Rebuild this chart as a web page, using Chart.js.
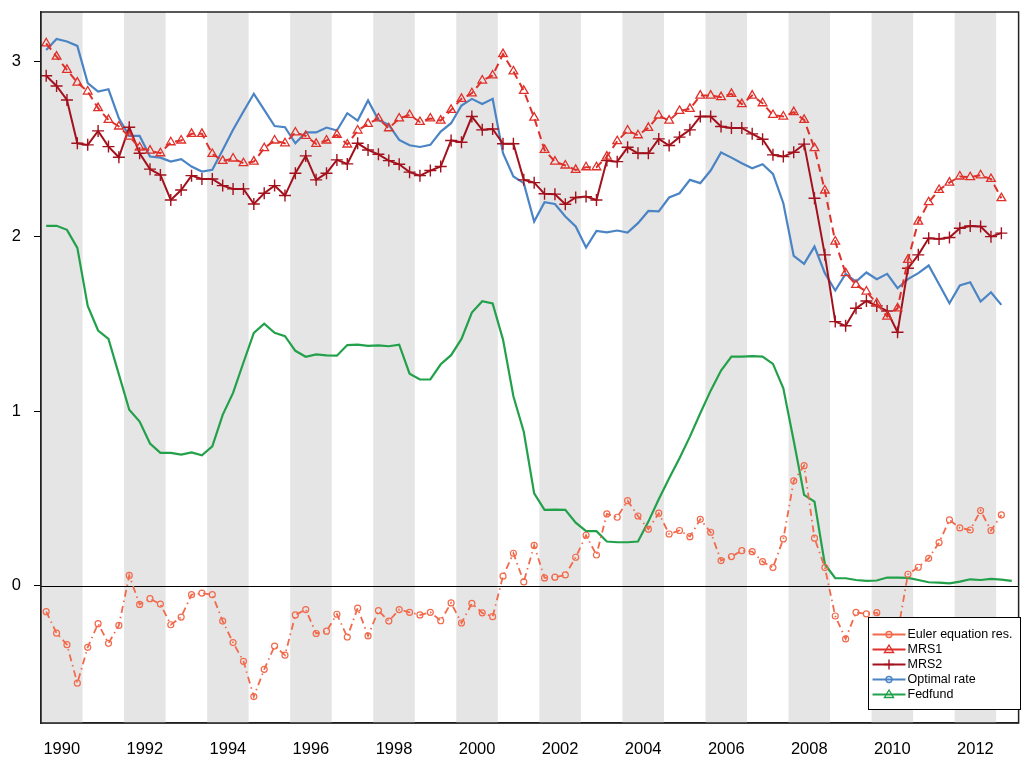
<!DOCTYPE html>
<html>
<head>
<meta charset="utf-8">
<script src="https://cdn.jsdelivr.net/npm/chart.js@4.4.0/dist/chart.umd.min.js"></script>
<style>
  html, body { margin: 0; padding: 0; background: #fff; }
  #wrap { width: 1026px; height: 763px; position: relative; }
</style>
</head>
<body>
<div id="wrap"><canvas id="rateChart"></canvas></div>
<script>
// quarterly observations starting 1989Q3
const firstYear = 1989, firstQuarter = 3;

const euler = [-0.147, -0.270, -0.336, -0.556, -0.351, -0.216, -0.328, -0.226, 0.060, -0.106, -0.073, -0.104,
  -0.222, -0.178, -0.050, -0.041, -0.050, -0.201, -0.324, -0.431, -0.633, -0.477, -0.344, -0.396,
  -0.166, -0.135, -0.272, -0.259, -0.162, -0.292, -0.127, -0.286, -0.141, -0.201, -0.135, -0.151,
  -0.166, -0.151, -0.199, -0.097, -0.212, -0.100, -0.154, -0.176, 0.056, 0.187, 0.023, 0.232,
  0.046, 0.050, 0.063, 0.164, 0.290, 0.177, 0.412, 0.393, 0.488, 0.400, 0.324, 0.416,
  0.297, 0.317, 0.282, 0.381, 0.307, 0.145, 0.168, 0.202, 0.196, 0.139, 0.105, 0.269,
  0.601, 0.688, 0.273, 0.105, -0.172, -0.303, -0.151, -0.160, -0.153, -0.25, -0.27, 0.067,
  0.107, 0.158, 0.248, 0.378, 0.332, 0.320, 0.431, 0.317, 0.406];

const mrs1 = [3.104, 3.028, 2.952, 2.879, 2.828, 2.733, 2.666, 2.628, 2.57, 2.508, 2.490, 2.475,
  2.538, 2.548, 2.586, 2.586, 2.471, 2.431, 2.445, 2.418, 2.427, 2.504, 2.548, 2.532,
  2.594, 2.574, 2.529, 2.548, 2.580, 2.525, 2.605, 2.643, 2.674, 2.618, 2.674, 2.694,
  2.654, 2.674, 2.662, 2.723, 2.786, 2.818, 2.891, 2.920, 3.042, 2.943, 2.832, 2.679,
  2.494, 2.427, 2.405, 2.380, 2.395, 2.395, 2.456, 2.544, 2.605, 2.578, 2.620, 2.691,
  2.662, 2.717, 2.729, 2.805, 2.805, 2.796, 2.815, 2.756, 2.805, 2.761, 2.694, 2.685,
  2.710, 2.666, 2.504, 2.262, 1.970, 1.789, 1.722, 1.684, 1.617, 1.541, 1.588, 1.865,
  2.084, 2.195, 2.265, 2.307, 2.342, 2.338, 2.349, 2.328, 2.218];

const mrs2 = [2.918, 2.860, 2.780, 2.532, 2.523, 2.603, 2.513, 2.452, 2.624, 2.475, 2.384, 2.351,
  2.208, 2.265, 2.347, 2.328, 2.328, 2.290, 2.271, 2.271, 2.185, 2.246, 2.290, 2.233,
  2.361, 2.460, 2.323, 2.361, 2.437, 2.414, 2.532, 2.494, 2.469, 2.433, 2.412, 2.367,
  2.347, 2.376, 2.399, 2.548, 2.538, 2.685, 2.609, 2.614, 2.529, 2.529, 2.323, 2.307,
  2.243, 2.241, 2.183, 2.222, 2.227, 2.208, 2.433, 2.427, 2.509, 2.475, 2.475, 2.557,
  2.519, 2.567, 2.609, 2.685, 2.685, 2.628, 2.620, 2.620, 2.586, 2.555, 2.466, 2.456,
  2.481, 2.527, 2.218, 1.894, 1.512, 1.488, 1.588, 1.630, 1.602, 1.573, 1.451, 1.817,
  1.894, 1.989, 1.985, 1.993, 2.046, 2.059, 2.056, 1.998, 2.018];

const optimal = [3.066, 3.129, 3.114, 3.089, 2.876, 2.828, 2.841, 2.675, 2.574, 2.574, 2.456, 2.450,
  2.427, 2.441, 2.399, 2.370, 2.380, 2.494, 2.609, 2.714, 2.815, 2.723, 2.631, 2.624,
  2.532, 2.594, 2.594, 2.622, 2.605, 2.704, 2.662, 2.777, 2.666, 2.637, 2.551, 2.521,
  2.511, 2.523, 2.599, 2.647, 2.748, 2.786, 2.757, 2.786, 2.475, 2.342, 2.304, 2.084,
  2.195, 2.185, 2.113, 2.056, 1.936, 2.031, 2.023, 2.033, 2.021, 2.075, 2.145, 2.142,
  2.222, 2.246, 2.323, 2.304, 2.376, 2.479, 2.450, 2.418, 2.389, 2.412, 2.357, 2.189,
  1.888, 1.842, 1.941, 1.789, 1.690, 1.785, 1.741, 1.793, 1.755, 1.785, 1.703, 1.755,
  1.789, 1.833, 1.726, 1.617, 1.719, 1.737, 1.627, 1.680, 1.608];

const fedfund = [2.060, 2.060, 2.037, 1.934, 1.602, 1.461, 1.413, 1.210, 1.008, 0.940, 0.815, 0.761,
  0.761, 0.751, 0.764, 0.747, 0.799, 0.979, 1.104, 1.278, 1.448, 1.500, 1.448, 1.429,
  1.345, 1.311, 1.324, 1.319, 1.317, 1.378, 1.380, 1.373, 1.376, 1.371, 1.380, 1.214,
  1.181, 1.181, 1.268, 1.320, 1.413, 1.564, 1.629, 1.616, 1.409, 1.085, 0.882, 0.529,
  0.435, 0.437, 0.435, 0.362, 0.313, 0.313, 0.254, 0.250, 0.250, 0.254, 0.368, 0.496,
  0.616, 0.730, 0.854, 0.988, 1.117, 1.232, 1.312, 1.312, 1.314, 1.312, 1.270, 1.131,
  0.83, 0.521, 0.482, 0.124, 0.044, 0.044, 0.034, 0.029, 0.031, 0.048, 0.048, 0.046,
  0.034, 0.021, 0.019, 0.015, 0.025, 0.038, 0.034, 0.040, 0.036, 0.029];

const yTicks = [0, 1, 2, 3];
const xTicks = [1990, 1992, 1994, 1996, 1998, 2000, 2002, 2004, 2006, 2008, 2010, 2012];
const shadedYears = xTicks;   // grey band over each labelled year

// middle of the i-th quarter, in years
function quarterPos(i) {
  const q = firstQuarter - 1 + i;
  return firstYear + Math.floor(q / 4) + ((q % 4) + 0.5) / 4;
}
function toPoints(vals) {
  return vals.map((v, i) => ({ x: quarterPos(i), y: v }));
}

function drawMark(ctx, kind, x, y, color) {
  ctx.save();
  ctx.strokeStyle = color;
  ctx.lineWidth = 1.4;
  ctx.setLineDash([]);
  ctx.beginPath();
  if (kind === 'circle') {
    ctx.arc(x, y, 3, 0, Math.PI * 2);
  } else if (kind === 'triangle') {
    ctx.moveTo(x, y - 4.5);
    ctx.lineTo(x + 4.5, y + 3);
    ctx.lineTo(x - 4.5, y + 3);
    ctx.closePath();
  } else if (kind === 'cross') {
    ctx.moveTo(x - 5, y); ctx.lineTo(x + 5, y);
    ctx.moveTo(x, y - 5); ctx.lineTo(x, y + 5);
  }
  ctx.stroke();
  ctx.restore();
}

const backdrop = {
  id: 'backdrop',
  beforeDatasetsDraw(chart) {
    const { ctx, chartArea: a, scales: { x, y } } = chart;
    ctx.save();
    ctx.beginPath();
    ctx.rect(a.left, a.top, a.width, a.height);
    ctx.clip();
    ctx.fillStyle = '#e5e5e5';
    shadedYears.forEach(yr => {
      const l = x.getPixelForValue(yr - 0.5);
      const r = x.getPixelForValue(yr + 0.5);
      ctx.fillRect(l, a.top, r - l, a.height);
    });
    const y0 = Math.round(y.getPixelForValue(0)) + 0.5;
    ctx.strokeStyle = '#000';
    ctx.lineWidth = 1.2;
    ctx.beginPath();
    ctx.moveTo(a.left, y0);
    ctx.lineTo(a.right, y0);
    ctx.stroke();
    ctx.restore();
  },
  afterDraw(chart) {
    const { ctx, chartArea: a } = chart;
    ctx.save();
    // frame
    ctx.strokeStyle = '#222';
    ctx.lineWidth = 1.5;
    ctx.strokeRect(a.left, a.top, a.width, a.height);

    // legend box
    const bw = 152, bh = 92;
    const bx = Math.round(a.right - 151) + 0.5, by = Math.round(a.bottom - 106) + 0.5;
    ctx.fillStyle = '#fff';
    ctx.fillRect(bx, by, bw, bh);
    ctx.strokeStyle = '#000';
    ctx.lineWidth = 1;
    ctx.strokeRect(bx, by, bw, bh);
    ctx.font = '12.5px "Liberation Sans", Arial, sans-serif';
    ctx.textBaseline = 'middle';
    ctx.textAlign = 'left';
    chart.data.datasets.forEach((ds, i) => {
      const ly = by + 17 + i * 15;
      ctx.strokeStyle = ds.borderColor;
      ctx.lineWidth = 2;
      ctx.setLineDash([]);
      ctx.beginPath();
      ctx.moveTo(bx + 4, ly);
      ctx.lineTo(bx + 37, ly);
      ctx.stroke();
      drawMark(ctx, ds.legendMark, bx + 20.5, ly, ds.borderColor);
      ctx.fillStyle = '#000';
      ctx.fillText(ds.label, bx + 39, ly + 0.5);
    });
    ctx.restore();
  }
};

new Chart(document.getElementById('rateChart'), {
  type: 'line',
  data: {
    datasets: [
      {
        label: 'Euler equation res.',
        data: toPoints(euler),
        borderColor: '#f26a4c',
        borderWidth: 1.8,
        borderDash: [7, 4, 1.5, 4],
        pointStyle: 'circle',
        pointRadius: 3,
        pointBorderWidth: 1.2,
        pointBackgroundColor: 'rgba(0,0,0,0)',
        legendMark: 'circle'
      },
      {
        label: 'MRS1',
        data: toPoints(mrs1),
        borderColor: '#e0302a',
        borderWidth: 2,
        borderDash: [8, 5],
        pointStyle: 'triangle',
        pointRadius: 5,
        pointBorderWidth: 1.3,
        pointBackgroundColor: 'rgba(0,0,0,0)',
        legendMark: 'triangle'
      },
      {
        label: 'MRS2',
        data: toPoints(mrs2),
        borderColor: '#a3111c',
        borderWidth: 2,
        pointStyle: 'crossRot',
        pointRotation: 45,
        pointRadius: 6,
        pointBorderWidth: 1.4,
        legendMark: 'cross'
      },
      {
        label: 'Optimal rate',
        data: toPoints(optimal),
        borderColor: '#4a84c4',
        borderWidth: 2.2,
        pointRadius: 0,
        legendMark: 'circle'
      },
      {
        label: 'Fedfund',
        data: toPoints(fedfund),
        borderColor: '#22a14a',
        borderWidth: 2.2,
        pointRadius: 0,
        legendMark: 'triangle'
      }
    ]
  },
  options: {
    responsive: true,
    maintainAspectRatio: false,
    animation: false,
    devicePixelRatio: 1,
    layout: { padding: { top: 12, right: 6, left: 0, bottom: 0 } },
    elements: { line: { tension: 0 } },
    plugins: {
      legend: { display: false },
      tooltip: { enabled: false }
    },
    scales: {
      x: {
        type: 'linear',
        min: 1989.5,
        max: 2013.04,
        afterBuildTicks: s => { s.ticks = xTicks.map(v => ({ value: v })); },
        afterFit: s => { s.height = 40; s.paddingLeft = 0; s.paddingRight = 0; },
        grid: { display: false, drawTicks: false },
        border: { display: true, color: '#222', width: 1.5 },
        ticks: {
          padding: 17,
          maxRotation: 0,
          autoSkip: false,
          color: '#000',
          font: { family: '"Liberation Sans", Arial, sans-serif', size: 16.5 },
          callback: v => String(v)
        }
      },
      y: {
        min: -0.784,
        max: 3.283,
        afterBuildTicks: s => { s.ticks = yTicks.map(v => ({ value: v })); },
        afterFit: s => { s.width = 41; s.paddingTop = 0; s.paddingBottom = 0; },
        grid: { drawOnChartArea: false, drawTicks: true, tickLength: 7, color: '#000' },
        border: { display: true, color: '#222', width: 1.5 },
        ticks: {
          padding: 13,
          color: '#000',
          font: { family: '"Liberation Sans", Arial, sans-serif', size: 16.5 },
          callback: v => String(v)
        }
      }
    }
  },
  plugins: [backdrop]
});
</script>
</body>
</html>
